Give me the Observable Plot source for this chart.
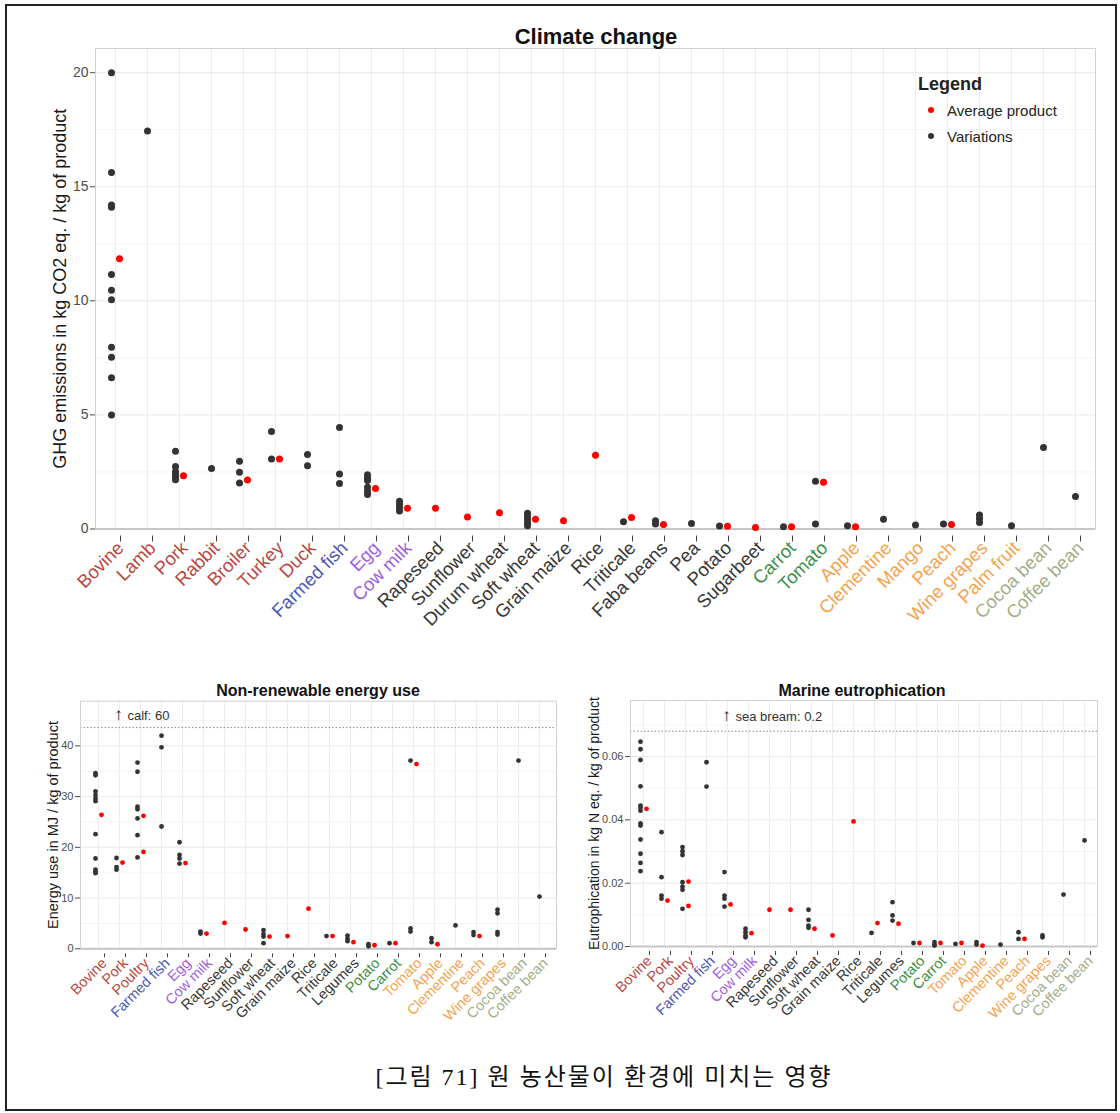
<!DOCTYPE html>
<html><head><meta charset="utf-8">
<script src="https://cdn.jsdelivr.net/npm/d3@7"></script>
<script src="https://cdn.jsdelivr.net/npm/@observablehq/plot@0.6"></script>
<style>
body{margin:0;background:#fff;}
#page{position:relative;width:1120px;height:1113px;overflow:hidden;font-family:"Liberation Sans",Arial,sans-serif;background:#fff;}
#frame{position:absolute;left:5px;top:4px;width:1108px;height:1103px;border:2px solid #222;}
.chart{position:absolute;}
.title{position:absolute;font-weight:bold;color:#111;white-space:nowrap;transform:translate(-50%,-50%);line-height:1;}
.legend{position:absolute;color:#222;white-space:nowrap;line-height:1;}
.ldot{position:absolute;width:6px;height:6px;border-radius:50%;}
#caption{position:absolute;left:604px;top:1074px;transform:translate(-50%,-50%);font-family:"Liberation Serif","Noto Sans CJK KR",serif;font-size:24px;letter-spacing:2px;color:#111;white-space:nowrap;}
</style>
</head><body>
<div id="page">
  <div id="frame"></div>
  <div id="c1" class="chart" style="left:0;top:0"></div>
  <div id="c2" class="chart" style="left:0;top:680px"></div>
  <div id="c3" class="chart" style="left:565px;top:680px"></div>
  <div class="title" id="t1" style="left:596px;top:37px;font-size:22px"></div>
  <div class="title" id="t2" style="left:318px;top:691px;font-size:16px"></div>
  <div class="title" id="t3" style="left:862px;top:691px;font-size:16px"></div>
  <div class="legend" id="lgTitle" style="left:918px;top:75px;font-size:18px;font-weight:bold"></div>
  <div class="ldot" style="left:928px;top:107px;background:#ff0000"></div>
  <div class="legend" id="lg1" style="left:947px;top:103px;font-size:15px"></div>
  <div class="ldot" style="left:928px;top:133px;background:#333"></div>
  <div class="legend" id="lg2" style="left:947px;top:129px;font-size:15px"></div>
  <div id="caption"></div>
</div>
<script>
// ---------- texts ----------
const titles = ["Climate change", "Non-renewable energy use", "Marine eutrophication"];
const yLabels = ["GHG emissions in kg CO2 eq. / kg of product", "Energy use in MJ / kg of product", "Eutrophication in kg N eq. / kg of product"];
const legendTitle = "Legend";
const legendItems = ["Average product", "Variations"];
const captionText = "[그림 71] 원 농산물이 환경에 미치는 영향";

// ---------- climate change ----------
const ghgCats = ["Bovine","Lamb","Pork","Rabbit","Broiler","Turkey","Duck","Farmed fish","Egg","Cow milk","Rapeseed","Sunflower","Durum wheat","Soft wheat","Grain maize","Rice","Triticale","Faba beans","Pea","Potato","Sugarbeet","Carrot","Tomato","Apple","Clementine","Mango","Peach","Wine grapes","Palm fruit","Cocoa bean","Coffee bean"];
const ghgGroups = ["meat","meat","meat","meat","meat","meat","meat","fish","dairy","dairy","crop","crop","crop","crop","crop","crop","crop","crop","crop","crop","crop","veg","veg","fruit","fruit","fruit","fruit","fruit","fruit","tropical","tropical"];
const ghgVariations = [
  [20.0,15.63,14.2,14.1,11.15,10.46,10.05,7.97,7.53,6.63,5.0],
  [17.44],
  [3.41,2.74,2.52,2.38,2.28,2.16],
  [2.65],
  [2.97,2.49,2.02],
  [4.27,3.07],
  [3.27,2.77],
  [4.45,2.41,1.99],
  [2.38,2.23,2.13,1.83,1.66,1.51],
  [1.22,1.08,0.94,0.79],
  [],[],[],
  [0.69,0.55,0.40,0.26,0.14],
  [],[],
  [0.32],
  [0.36,0.22],
  [0.24],
  [0.13],
  [],
  [0.10],
  [2.09,0.22],
  [0.14],
  [0.43],
  [0.17],
  [0.22],
  [0.61,0.46,0.29],
  [0.14],
  [3.57],
  [1.42]
];
const ghgAverages = [
  [11.85],[],[2.33],[],[2.15],[3.07],[],[],[1.77],[0.91],
  [0.91],[0.53],[0.71],[0.43],[0.36],[3.23],[0.50],[0.20],[],[0.12],
  [0.07],[0.10],[2.05],[0.10],[],[],[0.20],[],[],[],[]
];
const ghgTicks = [0,5,10,15,20];
const ghgMinor = [2.5,7.5,12.5,17.5];

// ---------- bottom charts: shared categories ----------
const subCats = ["Bovine","Pork","Poultry","Farmed fish","Egg","Cow milk","Rapeseed","Sunflower","Soft wheat","Grain maize","Rice","Triticale","Legumes","Potato","Carrot","Tomato","Apple","Clementine","Peach","Wine grapes","Cocoa bean","Coffee bean"];
const subGroups = ["meat","meat","meat","fish","dairy","dairy","crop","crop","crop","crop","crop","crop","crop","veg","veg","fruit","fruit","fruit","fruit","fruit","tropical","tropical"];

// ---------- non-renewable energy ----------
const energyVariations = [
  [34.6,34.2,31.0,30.3,29.6,29.1,22.6,17.8,15.6,15.2,14.9],
  [17.9,16.1,15.6],
  [36.7,34.9,28.0,27.5,25.7,22.4,18.0],
  [42.0,39.7,24.1],
  [21.0,18.5,17.8,16.8],
  [3.4,3.0],
  [],[],
  [3.7,2.9,2.4,1.1],
  [],[],
  [2.5],
  [2.6,2.0,1.5],
  [0.9,0.5],
  [1.1],
  [37.1,4.0,3.4],
  [2.1,1.3],
  [4.6],
  [3.3,2.7],
  [7.7,7.0,3.3,2.8],
  [37.1],
  [10.3]
];
const energyAverages = [
  [26.4],[17.0],[26.2,19.1],[],[16.9],[3.0],[5.1],[3.8],[2.4],[2.5],
  [7.9],[2.5],[1.3],[0.7],[1.1],[36.4],[0.9],[],[2.5],[],[],[]
];
const energyTicks = [0,10,20,30,40];
const energyMinor = [5,15,25,35,45];
const energyCutoff = [43.6];
const energyNote = ["calf: 60"];

// ---------- marine eutrophication ----------
const eutroVariations = [
  [0.0647,0.0623,0.0589,0.0506,0.0445,0.0438,0.0429,0.0389,0.0382,0.0338,0.0293,0.0264,0.0238],
  [0.0361,0.0219,0.0161,0.0151],
  [0.0314,0.0301,0.0289,0.0203,0.0189,0.0179,0.0119],
  [0.0582,0.0505],
  [0.0235,0.0161,0.0151,0.0126],
  [0.0056,0.0045,0.0035,0.0029],
  [],[],
  [0.0116,0.0084,0.0066,0.0059],
  [],[],
  [0.0043],
  [0.0140,0.0098,0.0082],
  [0.0011],
  [0.0014,0.0006,0.0003],
  [0.0008],
  [0.0014,0.0006],
  [0.0006],
  [0.0045,0.0024],
  [0.0035,0.0029],
  [0.0164],
  [0.0335]
];
const eutroAverages = [
  [0.0435],[0.0145],[0.0205,0.0128],[],[0.0133],[0.0042],[0.0116],[0.0116],[0.0056],[0.0035],
  [0.0395],[0.0074],[0.0072],[0.0011],[0.0011],[0.0011],[0.0003],[],[0.0024],[],[],[]
];
const eutroTicks = [0,0.02,0.04,0.06];
const eutroMinor = [0.01,0.03,0.05,0.07];
const eutroCutoff = [0.068];
const eutroNote = ["sea bream: 0.2"];

// ---------- styles ----------
const palette = {meat:"#b9473f", fish:"#4a58b5", dairy:"#a15de0", crop:"#363636", veg:"#3d8e45", fruit:"#f4a24f", tropical:"#a4ae88"};

function build(cfg, s) {
  const varRows = [], avgRows = [];
  cfg.cats.forEach((c, i) => {
    const both = cfg.vars[i].length > 0 && cfg.avgs[i].length > 0;
    cfg.vars[i].forEach(v => varRows.push({cat: c, v, both}));
    cfg.avgs[i].forEach(v => avgRows.push({cat: c, v, both}));
  });
  const colorOf = Object.fromEntries(cfg.cats.map((c, i) => [c, palette[cfg.groups[i]]]));
  const extra = [];
  if (cfg.cutoff) {
    extra.push(Plot.ruleY(cfg.cutoff, {stroke: "#8a8a8a", strokeDasharray: "1.5,2", strokeWidth: 1}));
    extra.push(Plot.text(["\u2191"], {x: () => cfg.noteAt[0], y: () => cfg.noteAt[1], textAnchor: "middle", dx: -1, dy: -1, fontSize: 17, fill: "#222"}));
    extra.push(Plot.text(cfg.note, {x: () => cfg.noteAt[0], y: () => cfg.noteAt[1], textAnchor: "start", dx: 8, fontSize: s.fn, fill: "#333"}));
  }
  return Plot.plot({
    width: s.width, height: s.height,
    marginTop: s.mt, marginBottom: s.mb, marginLeft: s.ml, marginRight: s.mr,
    style: {fontFamily: "Liberation Sans, Arial, sans-serif", background: "transparent", overflow: "visible"},
    x: {type: "point", domain: cfg.cats, padding: s.padding},
    y: {domain: cfg.yDomain},
    marks: [
      Plot.gridY(cfg.yMinor, {stroke: "#f4f4f4", strokeOpacity: 1}),
      Plot.gridY(cfg.yTicks, {stroke: "#e9e9e9", strokeOpacity: 1}),
      Plot.gridX(cfg.cats, {stroke: "#ededed", strokeOpacity: 1}),
      ...extra,
      Plot.frame({stroke: "#d2d2d2"}),
      Plot.ruleY([cfg.yDomain[0]], {stroke: "#c6c6c6", strokeWidth: 2}),
      Plot.axisY(cfg.yTicks, {tickSize: s.tick, tickPadding: 2, fontSize: s.fy, fill: "#4d4d4d", stroke: "#4d4d4d", tickFormat: cfg.fmt, label: null}),
      Plot.axisX(cfg.cats, {tickRotate: -45, tickSize: s.tickX, tickPadding: s.padX, fontSize: s.fx, fill: d => colorOf[d], stroke: "#444", label: null, dx: s.xdx, dy: s.xdy}),
      Plot.text([cfg.yLabel], {frameAnchor: "left", rotate: -90, textAnchor: "middle", lineAnchor: "middle", dx: s.labelDx, fontSize: s.fl, fill: "#1a1a1a"}),
      Plot.dot(varRows.filter(d => d.both), {x: "cat", y: "v", r: s.r, fill: "#333", dx: -s.dodge}),
      Plot.dot(varRows.filter(d => !d.both), {x: "cat", y: "v", r: s.r, fill: "#333"}),
      Plot.dot(avgRows.filter(d => d.both), {x: "cat", y: "v", r: s.r, fill: "#ff0000", dx: s.dodge}),
      Plot.dot(avgRows.filter(d => !d.both), {x: "cat", y: "v", r: s.r, fill: "#ff0000"})
    ]
  });
}

document.getElementById("c1").append(build(
  {cats: ghgCats, groups: ghgGroups, vars: ghgVariations, avgs: ghgAverages, yDomain: [0, 21.06], yTicks: ghgTicks, yMinor: ghgMinor, fmt: d => d, yLabel: yLabels[0]},
  {width: 1120, height: 640, mt: 48, mb: 111.5, ml: 95, mr: 25, padding: 0.53, tick: 5, tickX: 6, padX: 3, fy: 14, fx: 18.5, fl: 18, labelDx: -35, r: 3.5, dodge: 4, xdx: 5, xdy: 7}
));
document.getElementById("c2").append(build(
  {cats: subCats, groups: subGroups, vars: energyVariations, avgs: energyAverages, yDomain: [0, 48.8], yTicks: energyTicks, yMinor: energyMinor, fmt: d => d, yLabel: yLabels[1], cutoff: energyCutoff, note: energyNote, noteAt: ["Pork", 45.9]},
  {width: 565, height: 360, mt: 20.7, mb: 91.7, ml: 80, mr: 9, padding: 0.54, tick: 5, tickX: 4, padX: 3, fy: 11, fx: 14.5, fl: 14.5, fn: 13, labelDx: -27, r: 2.4, dodge: 3, xdx: 6, xdy: 5}
));
document.getElementById("c3").append(build(
  {cats: subCats, groups: subGroups, vars: eutroVariations, avgs: eutroAverages, yDomain: [0, 0.0777], yTicks: eutroTicks, yMinor: eutroMinor, fmt: d3.format(".2f"), yLabel: yLabels[2], cutoff: eutroCutoff, note: eutroNote, noteAt: ["Egg", 0.0727]},
  {width: 555, height: 360, mt: 20, mb: 94, ml: 65, mr: 23, padding: 0.55, tick: 5, tickX: 4, padX: 3, fy: 11, fx: 14.5, fl: 14, fn: 13, labelDx: -36, r: 2.4, dodge: 3, xdx: 6, xdy: 5}
));

document.getElementById("t1").textContent = titles[0];
document.getElementById("t2").textContent = titles[1];
document.getElementById("t3").textContent = titles[2];
document.getElementById("lgTitle").textContent = legendTitle;
document.getElementById("lg1").textContent = legendItems[0];
document.getElementById("lg2").textContent = legendItems[1];
document.getElementById("caption").textContent = captionText;
</script>
</body></html>
